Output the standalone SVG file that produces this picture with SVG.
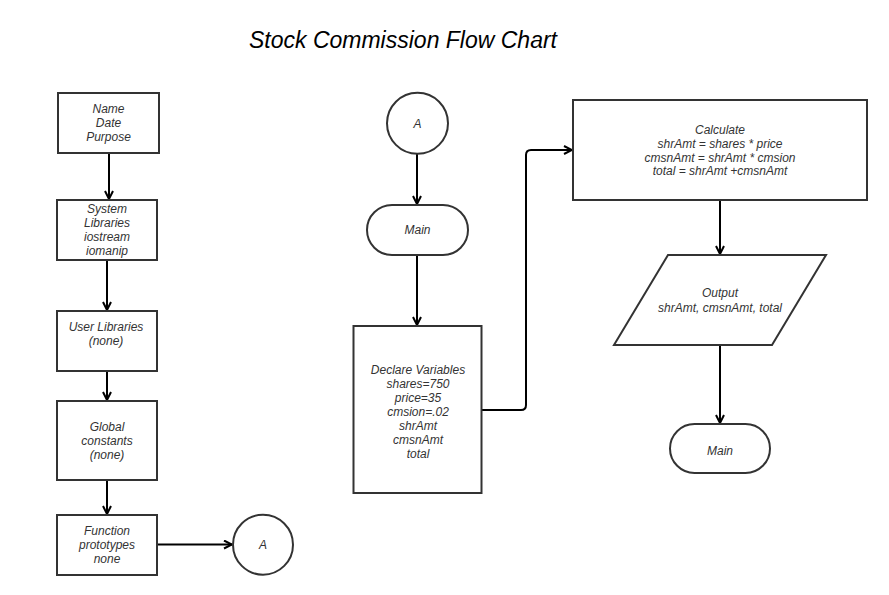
<svg xmlns="http://www.w3.org/2000/svg" width="889" height="595" viewBox="0 0 889 595">
  <defs>
    <style>
      .shape { fill: #ffffff; stroke: #333333; stroke-width: 2; }
      .lbl { font-family: "Liberation Sans", Arial, sans-serif; font-size: 12px; font-style: italic; fill: #333333; text-anchor: middle; }
      .title { font-family: "Liberation Sans", Arial, sans-serif; font-size: 23px; font-style: italic; fill: #000000; text-anchor: middle; }
      .edge { fill: none; stroke: #000000; stroke-width: 2; marker-end: url(#arr); }
    </style>
    <marker id="arr" viewBox="0 0 10 10" refX="9" refY="5" markerWidth="5" markerHeight="5" orient="auto" markerUnits="strokeWidth">
      <path d="M1,1 L9,5 L1,9" fill="none" stroke="#000000" stroke-width="2"/>
    </marker>
  </defs>
  <rect width="889" height="595" fill="#ffffff"/>

  <text class="title" x="403" y="48">Stock Commission Flow Chart</text>

  <g id="connectors">
    <path class="edge" d="M109,153 L109,199"/>
    <path class="edge" d="M107,260 L107,310"/>
    <path class="edge" d="M107,371 L107,400"/>
    <path class="edge" d="M107,480 L107,514"/>
    <path class="edge" d="M157,544.5 L232,544.5"/>
    <path class="edge" d="M417,154 L417,204"/>
    <path class="edge" d="M417,255 L417,325"/>
    <path class="edge" d="M482,410 L521,410 Q526,410 526,405 L526,155 Q526,150 531,150 L572,150"/>
    <path class="edge" d="M720,200 L720,254"/>
    <path class="edge" d="M720,345 L720,423"/>
  </g>

  <g id="n-header">
    <rect class="shape" x="58" y="93" width="101" height="60"/>
    <text class="lbl" x="108.5" y="113">Name</text>
    <text class="lbl" x="108.5" y="127">Date</text>
    <text class="lbl" x="108.5" y="141">Purpose</text>
  </g>

  <g id="n-syslib">
    <rect class="shape" x="57" y="200" width="100" height="60"/>
    <text class="lbl" x="107" y="212.5">System</text>
    <text class="lbl" x="107" y="226.5">Libraries</text>
    <text class="lbl" x="107" y="240.5">iostream</text>
    <text class="lbl" x="107" y="254.5">iomanip</text>
  </g>

  <g id="n-userlib">
    <rect class="shape" x="57" y="311" width="100" height="60"/>
    <text class="lbl" x="106" y="331">User Libraries</text>
    <text class="lbl" x="106" y="345">(none)</text>
  </g>

  <g id="n-global">
    <rect class="shape" x="57" y="401" width="100" height="79"/>
    <text class="lbl" x="107" y="431">Global</text>
    <text class="lbl" x="107" y="445">constants</text>
    <text class="lbl" x="107" y="459">(none)</text>
  </g>

  <g id="n-proto">
    <rect class="shape" x="57" y="515" width="100" height="60"/>
    <text class="lbl" x="107" y="535">Function</text>
    <text class="lbl" x="107" y="549">prototypes</text>
    <text class="lbl" x="107" y="563">none</text>
  </g>

  <g id="n-connA1">
    <circle class="shape" cx="263" cy="544.7" r="30"/>
    <text class="lbl" x="263" y="549">A</text>
  </g>

  <g id="n-connA2">
    <circle class="shape" cx="417.5" cy="123.3" r="30.5"/>
    <text class="lbl" x="417.5" y="127.5">A</text>
  </g>

  <g id="n-main1">
    <rect class="shape" x="367" y="205" width="101" height="50" rx="25" ry="25"/>
    <text class="lbl" x="417.5" y="234">Main</text>
  </g>

  <g id="n-declare">
    <rect class="shape" x="353.5" y="326" width="128" height="167"/>
    <text class="lbl" x="418" y="373.5">Declare Variables</text>
    <text class="lbl" x="418" y="387.5">shares=750</text>
    <text class="lbl" x="418" y="401.5">price=35</text>
    <text class="lbl" x="418" y="415.5">cmsion=.02</text>
    <text class="lbl" x="418" y="429.5">shrAmt</text>
    <text class="lbl" x="418" y="443.5">cmsnAmt</text>
    <text class="lbl" x="418" y="457.5">total</text>
  </g>

  <g id="n-calc">
    <rect class="shape" x="573" y="100" width="294" height="100"/>
    <text class="lbl" x="720" y="133.5">Calculate</text>
    <text class="lbl" x="720" y="147.5">shrAmt = shares * price</text>
    <text class="lbl" x="720" y="161.5">cmsnAmt = shrAmt * cmsion</text>
    <text class="lbl" x="720" y="175">total = shrAmt +cmsnAmt</text>
  </g>

  <g id="n-output">
    <polygon class="shape" points="668,255 826,255 772,345 614,345"/>
    <text class="lbl" x="720" y="297">Output</text>
    <text class="lbl" x="720" y="311.5">shrAmt, cmsnAmt, total</text>
  </g>

  <g id="n-main2">
    <rect class="shape" x="670" y="424" width="100" height="49" rx="24.5" ry="24.5"/>
    <text class="lbl" x="720" y="455">Main</text>
  </g>
</svg>
